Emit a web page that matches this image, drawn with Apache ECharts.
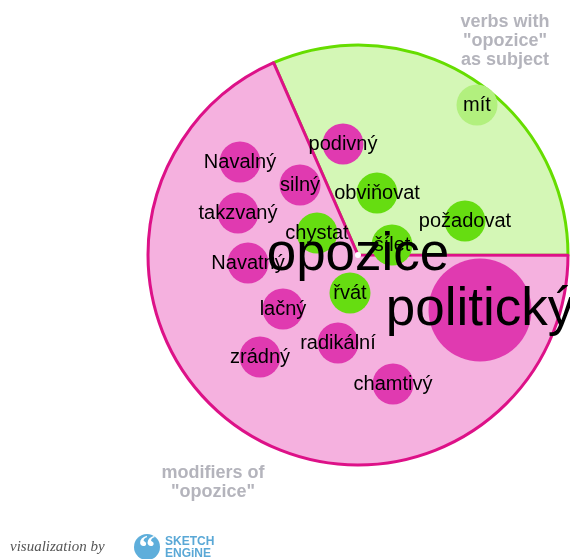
<!DOCTYPE html>
<html>
<head>
<meta charset="utf-8">
<script src="https://cdn.jsdelivr.net/npm/echarts@6/dist/echarts.min.js"></script>
<style>
  html, body { margin: 0; padding: 0; background: #fff; }
  #chart { width: 570px; height: 559px; }
</style>
</head>
<body>
<div id="chart"></div>
<script>
  // sector shares (percent of the circle)
  const sectorNames = ['verbs with "opozice" as subject', 'modifiers of "opozice"']
  const sectorShares = [31.6, 68.4]

  // verbs (green bubbles), position relative to the centre, y up
  const verbNames = ['mít', 'obviňovat', 'požadovat', 'chystat', 'šílet', 'řvát']
  const verbX = [119, 19, 107, -41, 34, -8]
  const verbY = [150, 62, 34, 22, 10, -38]
  const verbSize = [41, 41, 41, 41, 41, 41]

  // modifiers (pink bubbles)
  const modNames = ['podivný', 'Navalný', 'silný', 'takzvaný', 'Navatný', 'lačný', 'radikální', 'zrádný', 'chamtivý', 'politický']
  const modX = [-15, -118, -58, -120, -110, -75, -20, -98, 35, 122]
  const modY = [111, 93, 70, 42, -8, -54, -88, -102, -129, -55]
  const modSize = [41, 41, 41, 41, 41, 41, 41, 41, 41, 103]

  const headword = 'opozice'

  const font = '"Liberation Sans", Arial, sans-serif'
  const chart = echarts.init(document.getElementById('chart'))

  function bubbles(names, xs, ys, sizes, color) {
    return names.map(function (n, i) {
      const big = sizes[i] > 60
      return {
        name: n,
        value: [xs[i], ys[i]],
        symbolSize: sizes[i],
        itemStyle: { color: (n === 'mít') ? '#b2f07e' : color, opacity: 1 },
        label: { fontSize: big ? 53 : 20 }
      }
    })
  }

  const option = {
    animation: false,
    grid: { left: 148, top: 45, width: 420, height: 420 },
    xAxis: { type: 'value', min: -210, max: 210, show: false },
    yAxis: { type: 'value', min: -210, max: 210, show: false },
    graphic: [
      { type: 'text', x: 505, y: 13, silent: true,
        style: { text: 'verbs with\n"opozice"\nas subject', fill: '#b4b4bc', font: 'bold 18px ' + font, lineHeight: 19, align: 'center', verticalAlign: 'top' } },
      { type: 'text', x: 213, y: 464, silent: true,
        style: { text: 'modifiers of\n"opozice"', fill: '#b4b4bc', font: 'bold 18px ' + font, lineHeight: 19, align: 'center', verticalAlign: 'top' } },
      { type: 'text', x: 10, y: 540,
        style: { text: 'visualization by', fill: '#555', font: 'italic 15px "Liberation Serif", "DejaVu Serif", serif' } },
      { type: 'circle', shape: { cx: 147, cy: 547, r: 13 }, style: { fill: '#5eaedb' } },
      { type: 'text', x: 147, y: 532,
        style: { text: '\u201C', fill: '#fff', font: 'bold 34px "Liberation Serif", serif', align: 'center', verticalAlign: 'top' } },
      { type: 'text', x: 165, y: 536,
        style: { text: 'SKETCH\nENGiNE', fill: '#5aa8d6', font: 'bold 12px ' + font, lineHeight: 12 } }
    ],
    series: [
      {
        type: 'pie',
        center: [358, 255],
        radius: 210,
        startAngle: 113.7,
        silent: true,
        label: { show: false },
        labelLine: { show: false },
        data: [
          { name: sectorNames[0], value: sectorShares[0], itemStyle: { color: '#d4f7b6', borderColor: '#66dd00', borderWidth: 3 } },
          { name: sectorNames[1], value: sectorShares[1], itemStyle: { color: '#f5b1df', borderColor: '#dd1188', borderWidth: 3 } }
        ],
        z: 1
      },
      {
        type: 'scatter',
        symbol: 'circle',
        silent: true,
        z: 3,
        label: { show: true, position: 'inside', formatter: '{b}', color: '#000', fontFamily: font },
        data: bubbles(modNames, modX, modY, modSize, '#e03ab0')
      },
      {
        type: 'scatter',
        symbol: 'circle',
        silent: true,
        z: 3,
        label: { show: true, position: 'inside', formatter: '{b}', color: '#000', fontFamily: font },
        data: bubbles(verbNames, verbX, verbY, verbSize, '#66dd11')
      },
      {
        type: 'scatter',
        silent: true,
        z: 5,
        symbolSize: 6,
        itemStyle: { color: '#fff', opacity: 1 },
        label: { show: true, position: 'inside', formatter: '{b}', color: '#000', fontSize: 53, fontFamily: font },
        data: [{ name: headword, value: [0, 0] }]
      }
    ]
  }
  chart.setOption(option)
</script>
</body>
</html>
